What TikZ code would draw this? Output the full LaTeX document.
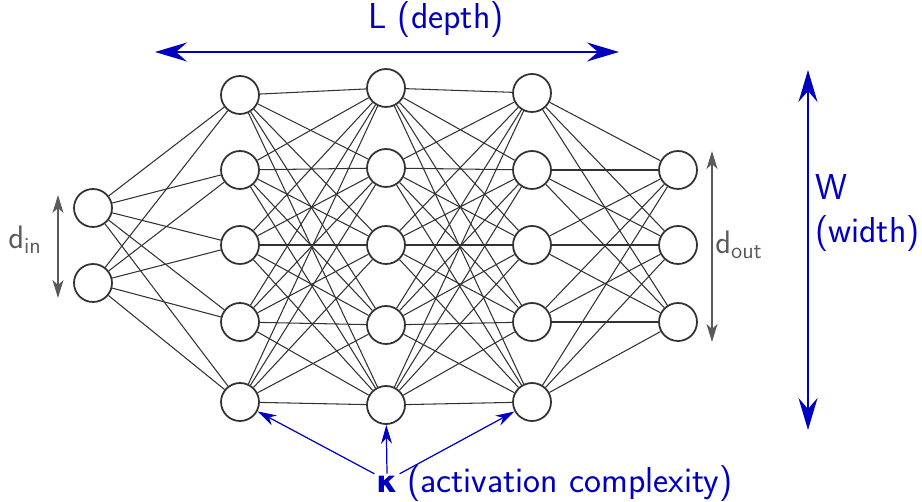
\documentclass[tikz,border=0pt]{standalone}
\usepackage{fontspec}
\newfontfamily\kapfont{DejaVu Sans}
\usetikzlibrary{arrows.meta}

\definecolor{netblue}{RGB}{0,0,190}
\definecolor{netgray}{RGB}{90,90,90}
\definecolor{wiregray}{RGB}{50,50,50}

\tikzset{
    neuron/.style={circle, draw=wiregray, line width=1pt, fill=white, minimum size=0.76cm, inner sep=0pt},
    edge/.style={draw=wiregray, line width=0.6pt},
    dimarrow/.style={netgray, line width=0.9pt, {Stealth[length=0.36cm, width=0.22cm, inset=0.1cm]}-{Stealth[length=0.36cm, width=0.22cm, inset=0.1cm]}},
    bigarrow/.style={netblue, line width=1.4pt, {Stealth[length=0.64cm, width=0.38cm, inset=0.22cm]}-{Stealth[length=0.64cm, width=0.38cm, inset=0.22cm]}},
    kaparrow/.style={netblue, line width=0.7pt, -{Stealth[length=0.38cm, width=0.22cm, inset=0.12cm]}},
    bluetext/.style={netblue, font=\sffamily\fontsize{20.5}{24}\selectfont},
    graytext/.style={netgray, font=\sffamily\fontsize{18.5}{22}\selectfont},
}

\begin{document}
\begin{tikzpicture}[x=0.02cm, y=-0.02cm, font=\sffamily]
    \useasboundingbox (0,0) rectangle (922,502);

    % Neurons of each layer
    \foreach \n/\y in {1/208, 2/283}
        \node[neuron] (in\n) at (93,\y) {};
    \foreach \n/\y in {1/95, 2/170, 3/245, 4/322, 5/402}
        \node[neuron] (ha\n) at (240,\y) {};
    \foreach \n/\y in {1/88, 2/168, 3/245, 4/325, 5/405}
        \node[neuron] (hb\n) at (386,\y) {};
    \foreach \n/\y in {1/93, 2/170, 3/245, 4/322, 5/402}
        \node[neuron] (hc\n) at (532,\y) {};
    \foreach \n/\y in {1/170, 2/245, 3/322}
        \node[neuron] (out\n) at (678,\y) {};

    % Connections between consecutive layers
    \foreach \i in {1,2}
        \foreach \j in {1,...,5}
            \draw[edge] (in\i) -- (ha\j);
    \foreach \i in {1,...,5}
        \foreach \j in {1,...,5} {
            \draw[edge] (ha\i) -- (hb\j);
            \draw[edge] (hb\i) -- (hc\j);
        }
    \foreach \i in {1,...,5}
        \foreach \j in {1,2,3}
            \draw[edge] (hc\i) -- (out\j);

    % Input and output sizes
    \coordinate (dinTop) at (58,195);
    \coordinate (dinBot) at (58,298);
    \draw[dimarrow] (dinTop) -- (dinBot);
    \node[graytext] (din) at (25,240) {$\mathsf{d}_{\mathsf{in}}$};

    \coordinate (doutTop) at (712,151);
    \coordinate (doutBot) at (712,342);
    \draw[dimarrow] (doutTop) -- (doutBot);
    \node[graytext] (dout) at (739,245) {$\mathsf{d}_{\mathsf{out}}$};

    % Depth and width
    \coordinate (depL) at (155,52);
    \coordinate (depR) at (619,52);
    \draw[bigarrow] (depL) -- (depR);
    \node[bluetext] (depth) at (436,20) {L (depth)};

    \coordinate (widT) at (808,70);
    \coordinate (widB) at (808,430);
    \draw[bigarrow] (widT) -- (widB);
    \node[bluetext, anchor=west, align=left] (width) at (809,213) {W\\(width)};

    % Activation complexity
    \node[netblue, font=\fontsize{17}{20}\selectfont\kapfont\bfseries, inner sep=1pt] (kap) at (387,484) {κ};
    \node[bluetext, anchor=west, inner xsep=4pt] (act) at (kap.east) {(activation complexity)};
    \draw[kaparrow] (kap.north west) -- (ha5);
    \draw[kaparrow] (kap.north) -- (hb5);
    \draw[kaparrow] (kap.north east) -- (hc5);
\end{tikzpicture}
\end{document}
